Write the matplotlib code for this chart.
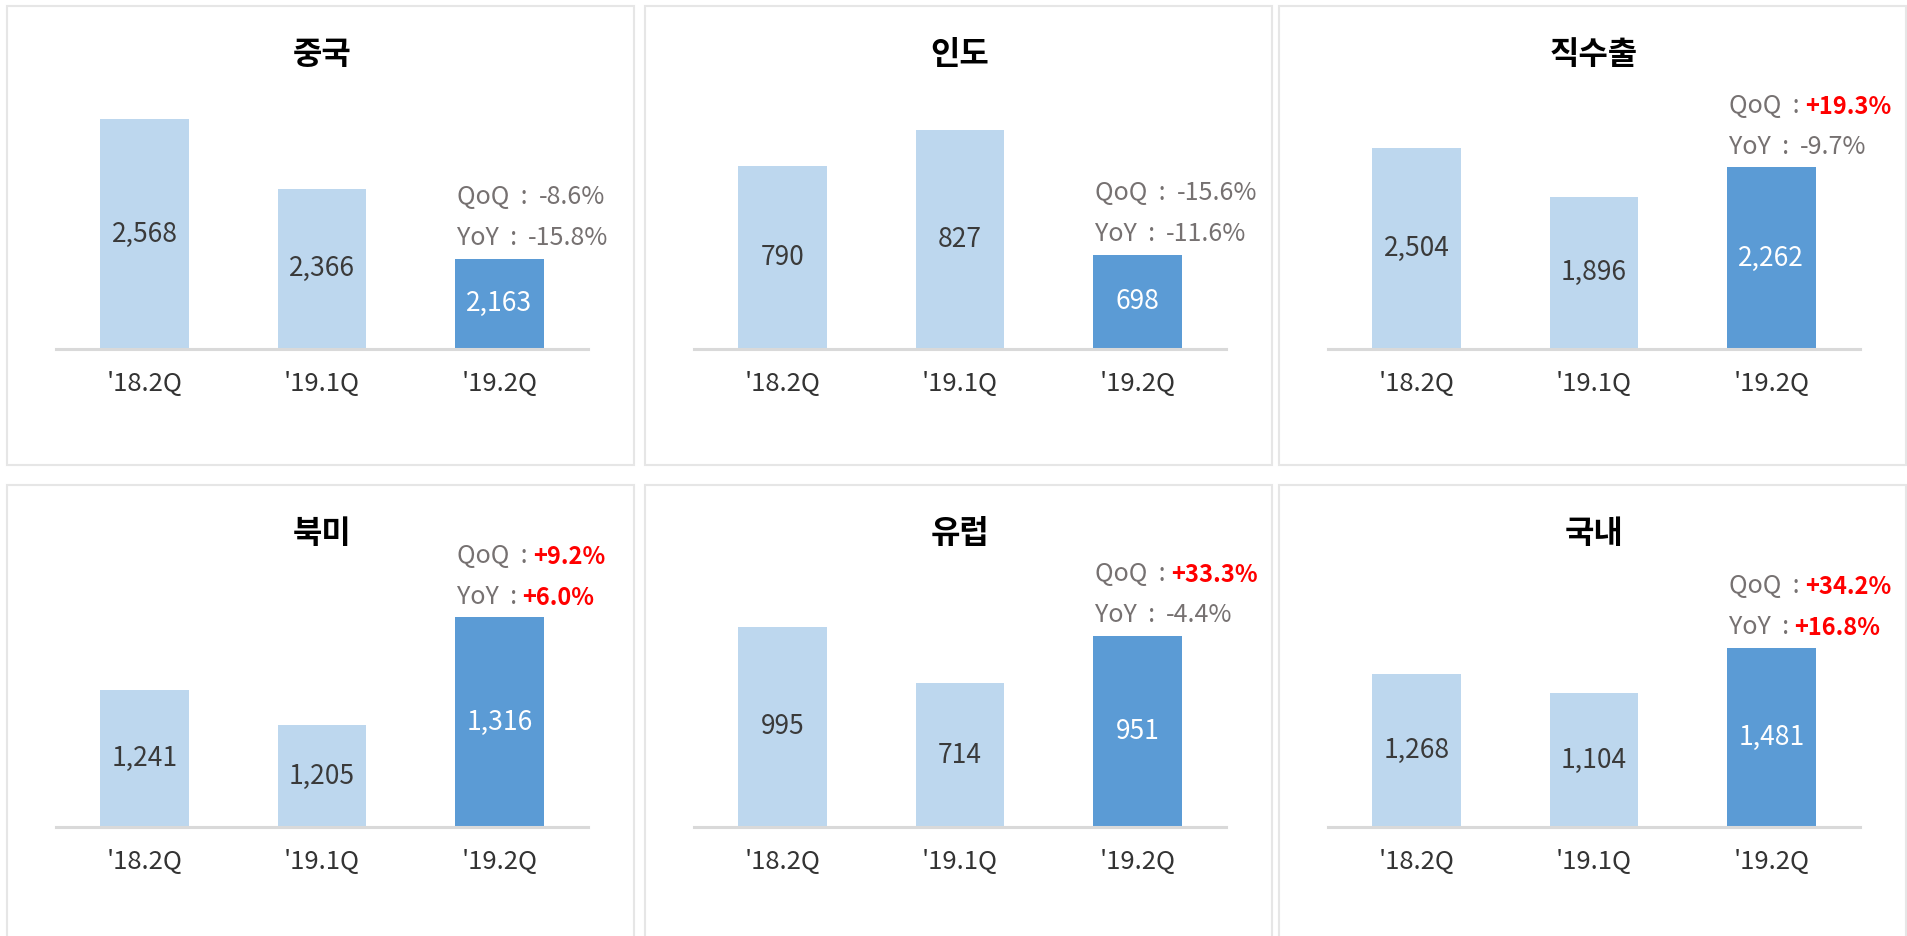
"""지역별 판매 실적 (6개 패널 막대그래프) -> out.png"""
import matplotlib
matplotlib.use("Agg")
import matplotlib.pyplot as plt
from matplotlib.patches import Rectangle

plt.rcParams["font.family"] = ["Noto Sans CJK KR", "DejaVu Sans"]

quarters = ["'18.2Q", "'19.1Q", "'19.2Q"]
regions = ["중국", "인도", "직수출", "북미", "유럽", "국내"]

china = [2568, 2366, 2163]
india = [790, 827, 698]
export = [2504, 1896, 2262]
north_america = [1241, 1205, 1316]
europe = [995, 714, 951]
domestic = [1268, 1104, 1481]

qoq = [-8.6, -15.6, 19.3, 9.2, 33.3, 34.2]
yoy = [-15.8, -11.6, -9.7, 6.0, -4.4, 16.8]

# 축 범위 (원본 차트의 세로축 최소/최대)
axis_floor = [1900, 600, 0, 1100, 0, 0]
axis_ceiling = [2656, 870, 3238, 1368, 1292, 2149]

LIGHT = "#BDD7EE"
DARK = "#5B9BD5"
GREY = "#767171"
RED = "#FF0000"

W, H = 1908, 936
PANEL_X = [7, 645, 1279]
PANEL_Y = [6, 485]
PANEL_W, PANEL_H = 627, 459
AX_DX, AX_W, AX_H = 49, 532, 260
BASE_Y = [349, 827]

values = [china, india, export, north_america, europe, domestic]

fig = plt.figure(figsize=(W / 100, H / 100), dpi=100)

for k, region in enumerate(regions):
    row, col = divmod(k, 3)
    px, py = PANEL_X[col], PANEL_Y[row]
    fig.add_artist(Rectangle((px / W, 1 - (py + PANEL_H) / H), PANEL_W / W, PANEL_H / H,
                             transform=fig.transFigure, fill=False,
                             edgecolor="#E6E6E6", lw=1.5))

    ax = fig.add_axes([(px + AX_DX) / W, 1 - BASE_Y[row] / H, AX_W / W, AX_H / H])
    vals = values[k]
    lo, hi = axis_floor[k], axis_ceiling[k]
    ax.bar(range(3), vals, width=0.5, color=[LIGHT, LIGHT, DARK])
    ax.set_xlim(-0.5, 2.5)
    ax.set_ylim(lo, hi)

    for i, v in enumerate(vals):
        ax.text(i, (lo + v) / 2, f"{v:,}", ha="center", va="center", fontsize=19,
                color="white" if i == 2 else "#3A3A3A")

    # QoQ / YoY : 회색 머리 + 값 (양수면 빨간 굵은 글씨)
    for name, pct, dy in [("QoQ", qoq[k], 44.5), ("YoY", yoy[k], 15)]:
        up = pct > 0
        head = ax.annotate(f"{name}  : " if up else f"{name}  :  ", xy=(1.76, vals[2]),
                           xytext=(0, dy), textcoords="offset points", fontsize=18,
                           color=GREY, ha="left", va="center")
        ax.annotate(f"{pct:+.1f}%", xy=(1, 0), xycoords=head,
                    fontsize=17 if up else 18,
                    color=RED if up else GREY, weight="bold" if up else "normal",
                    ha="left", va="bottom")

    ax.set_title(region, fontsize=23, weight="bold", color="black",
                 pad=0, y=(BASE_Y[row] - py - 49) / AX_H, va="center")

    ax.set_xticks(range(3), quarters)
    ax.tick_params(axis="x", length=0, pad=16, labelsize=18.5, labelcolor="#333333")
    ax.set_yticks([])
    for s in ["top", "left", "right"]:
        ax.spines[s].set_visible(False)
    ax.spines["bottom"].set_color("#D9D9D9")
    ax.spines["bottom"].set_linewidth(2.2)

fig.savefig("out.png", dpi=100)
plt.close(fig)
